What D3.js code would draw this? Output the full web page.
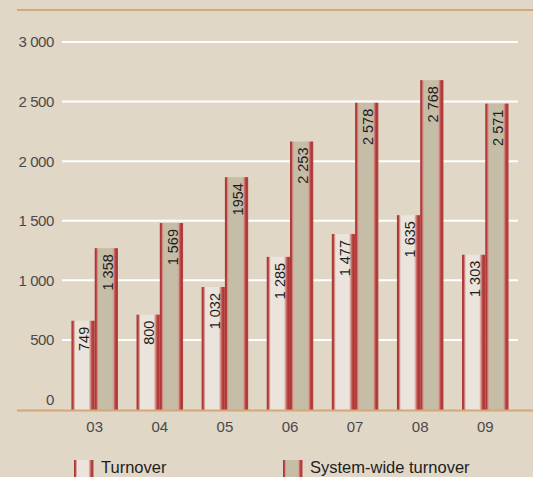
<!DOCTYPE html>
<html>
<head>
<meta charset="utf-8">
<script src="https://cdn.jsdelivr.net/npm/d3@7"></script>
<style>
html,body{margin:0;padding:0;background:#e0d7c7;}
svg{display:block;font-family:"Liberation Sans",Arial,sans-serif;}
</style>
</head>
<body>
<svg id="chart" width="533" height="477"></svg>
<script>
const years = ["03","04","05","06","07","08","09"];
const turnover = [749, 800, 1032, 1285, 1477, 1635, 1303];
const systemWide = [1358, 1569, 1954, 2253, 2578, 2768, 2571];
const turnoverLabels = ["749","800","1 032","1 285","1 477","1 635","1 303"];
const systemLabels = ["1 358","1 569","1954","2 253","2 578","2 768","2 571"];
const yTicks = [0, 500, 1000, 1500, 2000, 2500, 3000];
const yTickLabels = ["0","500","1 000","1 500","2 000","2 500","3 000"];
const seriesNames = ["Turnover","System-wide turnover"];

const svg = d3.select("#chart");
svg.append("rect").attr("width",533).attr("height",477).attr("fill","#e0d7c7");

const defs = svg.append("defs");
function grad(id, fill){
  const g = defs.append("linearGradient").attr("id",id).attr("x1","0").attr("x2","1").attr("y1","0").attr("y2","0");
  [[0,"#a83232"],[0.07,"#b5403e"],[0.11,"#cf8a82"],[0.17,fill],[0.74,fill],[0.8,"#d6a49c"],[0.87,"#c0504b"],[0.93,"#ad3535"],[1,"#b84a46"]]
    .forEach(([o,c])=>g.append("stop").attr("offset",o).attr("stop-color",c));
}
grad("gT","#ebe4dd");
grad("gS","#c6bda7");

const x = d3.scaleBand().domain(years).range([62,518]).paddingInner(0.285).paddingOuter(0.145);
const x1 = d3.scaleBand().domain([0,1]).range([0, x.bandwidth()]);
const yGrid = d3.scaleLinear().domain([0,3000]).range([399.5, 42]);
const yBar = d3.scaleLinear().domain([0,3000]).range([410, 410-357.5]);

// top line
svg.append("line").attr("x1",17).attr("x2",533).attr("y1",10).attr("y2",10)
  .attr("stroke","#d4a878").attr("stroke-width",2.2);

// gridlines
svg.selectAll(".grid").data(yTicks.filter(d=>d>0)).enter().append("line")
  .attr("x1",62).attr("x2",518).attr("y1",d=>yGrid(d)).attr("y2",d=>yGrid(d))
  .attr("stroke","#ffffff").attr("stroke-width",2);

// y labels
svg.selectAll(".ylab").data(yTicks).enter().append("text")
  .attr("x",54).attr("y",d=>yGrid(d)).attr("dy","0.36em").attr("text-anchor","end")
  .attr("font-size",15).attr("fill","#4a4a4a").attr("letter-spacing","-0.4")
  .text((d,i)=>yTickLabels[i]);

// bars
const groups = svg.selectAll(".g").data(years).enter().append("g")
  .attr("transform",d=>`translate(${x(d)},0)`);
const series = [
  {vals:turnover, labels:turnoverLabels, fill:"url(#gT)"},
  {vals:systemWide, labels:systemLabels, fill:"url(#gS)"}
];
series.forEach((s,si)=>{
  groups.append("rect")
    .attr("x",x1(si)).attr("width",x1.bandwidth())
    .attr("y",(d,i)=>yBar(s.vals[i])).attr("height",(d,i)=>yBar(0)-yBar(s.vals[i]))
    .attr("fill",s.fill);
  groups.append("text")
    .attr("transform",(d,i)=>`translate(${x1(si)+x1.bandwidth()/2+1},${yBar(s.vals[i])+6}) rotate(-90)`)
    .attr("text-anchor","end").attr("dy","0.36em")
    .attr("font-size",14.5).attr("fill","#1e1e1e")
    .text((d,i)=>s.labels[i]);
});

// bottom axis line
svg.append("line").attr("x1",17).attr("x2",533).attr("y1",410.5).attr("y2",410.5)
  .attr("stroke","#d4a878").attr("stroke-width",2.2);

// x labels
svg.selectAll(".xlab").data(years).enter().append("text")
  .attr("x",d=>x(d)+x.bandwidth()/2).attr("y",426.5).attr("dy","0.36em")
  .attr("text-anchor","middle").attr("font-size",15).attr("fill","#4a4a4a")
  .text(d=>d);

// legend
const legX = [74, 283];
const legFill = ["url(#gT)","url(#gS)"];
seriesNames.forEach((n,i)=>{
  svg.append("rect").attr("x",legX[i]).attr("y",460).attr("width",19.5).attr("height",20).attr("fill",legFill[i]);
  svg.append("text").attr("x",legX[i]+27).attr("y",472.5).attr("font-size",16.5).attr("fill","#1e1e1e").text(n);
});
</script>
</body>
</html>
